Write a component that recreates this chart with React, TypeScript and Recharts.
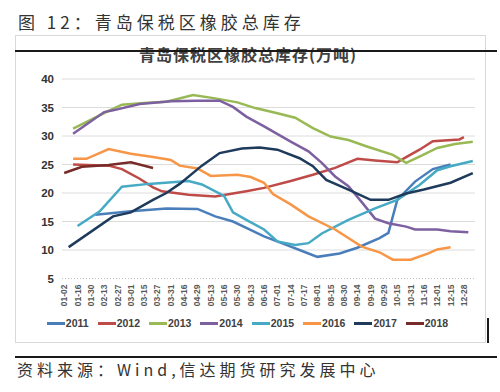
import { LineChart, Line, XAxis, YAxis, CartesianGrid, Legend } from 'recharts';

// x positions are sample indices on a 93-slot date axis; every third slot is labelled
const tickLabels = [
  '01-02', '01-16', '01-30', '02-13', '02-27', '03-01', '03-15', '03-27', '03-31', '04-16',
  '04-29', '05-13', '05-16', '05-30', '06-13', '06-16', '07-01', '07-14', '07-17', '08-01',
  '08-15', '08-30', '09-14', '09-19', '09-29', '10-15', '10-31', '11-16', '12-01', '12-15', '12-28',
];

const years = ['2011', '2012', '2013', '2014', '2015', '2016', '2017', '2018'];
const lineColors = ['#4A7EBB', '#BE4B48', '#98B954', '#7D60A0', '#46AAC5', '#F79646', '#1F3B5C', '#772C2A'];

const s2011 = [[7, 16.2], [15, 16.8], [23, 17.3], [30, 17.2], [34, 15.9], [38, 15.0], [41, 13.9], [45, 12.4], [50, 10.9], [54, 9.7], [57, 8.8], [62, 9.4], [66, 10.4], [71, 12.1], [73, 13.0], [75, 18.8], [79, 22.0], [83, 24.2], [87, 25.0]];
const s2012 = [[2, 25.0], [10, 24.8], [13, 24.2], [17, 22.5], [20, 21.0], [22, 20.3], [28, 19.7], [34, 19.4], [38, 19.9], [41, 20.3], [45, 20.9], [51, 22.1], [56, 23.2], [61, 24.4], [66, 26.0], [70, 25.7], [75, 25.4], [77, 26.3], [80, 27.6], [83, 29.1], [89, 29.4], [90, 29.8]];
const s2013 = [[2, 31.3], [10, 34.4], [13, 35.5], [18, 35.8], [23, 36.0], [29, 37.2], [34, 36.6], [39, 35.9], [43, 34.9], [48, 34.0], [52, 33.2], [56, 31.4], [60, 29.9], [64, 29.3], [68, 28.2], [74, 26.7], [77, 25.3], [80, 26.4], [84, 27.9], [88, 28.6], [92, 29.0]];
const s2014 = [[2, 30.4], [9, 34.2], [11, 34.5], [17, 35.6], [24, 36.1], [30, 36.2], [35, 36.2], [38, 35.1], [41, 33.4], [45, 31.7], [51, 29.0], [55, 27.3], [58, 25.3], [61, 22.9], [64, 21.2], [67, 18.4], [70, 15.5], [73, 14.7], [77, 14.1], [79, 13.6], [84, 13.6], [87, 13.3], [91, 13.1]];
const s2015 = [[3, 14.2], [8, 16.8], [13, 21.1], [19, 21.6], [28, 22.1], [31, 21.5], [36, 19.5], [38, 16.6], [41, 15.3], [45, 13.6], [48, 11.5], [52, 10.9], [55, 11.2], [58, 12.9], [64, 15.3], [70, 17.3], [75, 18.8], [80, 21.4], [84, 24.0], [87, 24.7], [92, 25.6]];
const s2016 = [[2, 26.0], [5, 26.0], [10, 27.7], [15, 26.9], [20, 26.3], [24, 25.8], [26, 24.8], [30, 24.3], [33, 23.0], [39, 23.2], [42, 22.8], [45, 21.8], [47, 19.8], [51, 18.0], [55, 15.9], [61, 13.6], [67, 10.6], [71, 9.6], [74, 8.3], [78, 8.3], [82, 9.4], [84, 10.1], [87, 10.5]];
const s2017 = [[1, 10.5], [11, 15.9], [15, 16.6], [20, 18.8], [23, 20.0], [26, 21.6], [31, 24.8], [35, 27.0], [40, 27.8], [44, 28.0], [48, 27.6], [53, 26.1], [56, 24.7], [59, 22.3], [64, 20.6], [69, 18.8], [73, 18.8], [77, 19.9], [81, 20.6], [87, 21.8], [92, 23.5]];
const s2018 = [[0, 23.5], [4, 24.6], [10, 24.9], [15, 25.4], [20, 24.4]];

const seriesPoints = [s2011, s2012, s2013, s2014, s2015, s2016, s2017, s2018];

const rows = Array.from({ length: 93 }, (_, k) => {
  const row: Record<string, number | null> = { k };
  years.forEach((y, i) => {
    const hit = seriesPoints[i].find(p => p[0] === k);
    row[y] = hit ? hit[1] : null;
  });
  return row;
});

const cjk = '"Noto Sans CJK SC", "Noto Sans", sans-serif';
const latin = '"Liberation Sans", Arial, sans-serif';

function DateTick({ x, y, payload }: any) {
  const ty = y + 6;
  return (
    <text
      x={x}
      y={ty}
      transform={`rotate(-90 ${x} ${ty})`}
      textAnchor="end"
      dominantBaseline="central"
      fontSize={8.5}
      fontWeight="bold"
      fontFamily={latin}
      fill="#595959"
    >
      {tickLabels[Math.round(payload.value / 3)]}
    </text>
  );
}

function LegendRow(props: any) {
  const { payload = [] } = props;
  return (
    <div style={{ display: 'flex', justifyContent: 'center', paddingLeft: 4 }}>
      {payload.map((p: any) => (
        <span key={p.value} style={{ display: 'flex', alignItems: 'center', marginRight: 9 }}>
          <span style={{ width: 18, height: 3, background: p.color, marginRight: 1 }} />
          <span style={{ fontFamily: latin, fontWeight: 'bold', fontSize: 10.5, color: '#404040' }}>{p.value}</span>
        </span>
      ))}
    </div>
  );
}

export default function App() {
  return (
    <div style={{ position: 'absolute', left: 0, top: 0, width: 500, height: 392, background: '#fff', overflow: 'hidden' }}>
      <div style={{ position: 'absolute', left: 18, top: 13, fontFamily: cjk, fontSize: 17, lineHeight: 1, letterSpacing: 4, color: '#333', whiteSpace: 'nowrap' }}>
        图 12：青岛保税区橡胶总库存
      </div>
      <div style={{ position: 'absolute', left: 15, top: 35, width: 469, height: 306, border: '1px solid #d9d9d9' }} />
      <div style={{ position: 'absolute', left: 0, top: 46, width: 496, textAlign: 'center', fontFamily: cjk, fontSize: 16, fontWeight: 'bold', lineHeight: 1, letterSpacing: 1, color: '#404040' }}>
        青岛保税区橡胶总库存(万吨)
      </div>
      <div style={{ position: 'absolute', left: 15, top: 50, width: 482, height: 2, background: '#1a1a1a' }} />

      <div style={{ position: 'absolute', left: 0, top: 0 }}>
        <LineChart width={500} height={392} data={rows} margin={{ top: 79, right: 25, bottom: 73.5, left: 17 }}>
          <CartesianGrid horizontal vertical={false} stroke="#dcdcdc" horizontalValues={[10, 15, 20, 25, 30, 35, 40]} />
          <XAxis
            type="number"
            dataKey="k"
            domain={[-0.5, 92.5]}
            ticks={tickLabels.map((_, i) => i * 3)}
            interval={0}
            height={40}
            tickSize={0}
            tickMargin={0}
            tickLine={false}
            axisLine={{ stroke: '#bfbfbf', strokeDasharray: '1 2' }}
            tick={<DateTick />}
          />
          <YAxis
            domain={[5, 40]}
            ticks={[5, 10, 15, 20, 25, 30, 35, 40]}
            width={45}
            tickSize={0}
            tickMargin={8}
            tickLine={false}
            axisLine={false}
            tick={{ fontSize: 11.5, fontWeight: 'bold', fontFamily: latin, fill: '#333' }}
          />
          <Legend
            layout="horizontal"
            verticalAlign="middle"
            align="center"
            wrapperStyle={{ left: 0, top: 317, width: 500 }}
            content={<LegendRow />}
          />
          {years.map((y, i) => (
            <Line
              key={y}
              dataKey={y}
              name={y}
              type="linear"
              stroke={lineColors[i]}
              strokeWidth={2.5}
              dot={false}
              connectNulls
              isAnimationActive={false}
            />
          ))}
        </LineChart>
      </div>

      <div style={{ position: 'absolute', left: 487, top: 318, width: 2, height: 25, background: '#1a1a1a' }} />
      <div style={{ position: 'absolute', left: 15, top: 356, width: 482, height: 2, background: '#1a1a1a' }} />
      <div style={{ position: 'absolute', left: 17, top: 361, fontFamily: cjk, fontSize: 16, lineHeight: 1, letterSpacing: 4, color: '#333', whiteSpace: 'nowrap' }}>
        资料来源：Wind,信达期货研究发展中心
      </div>
    </div>
  );
}
